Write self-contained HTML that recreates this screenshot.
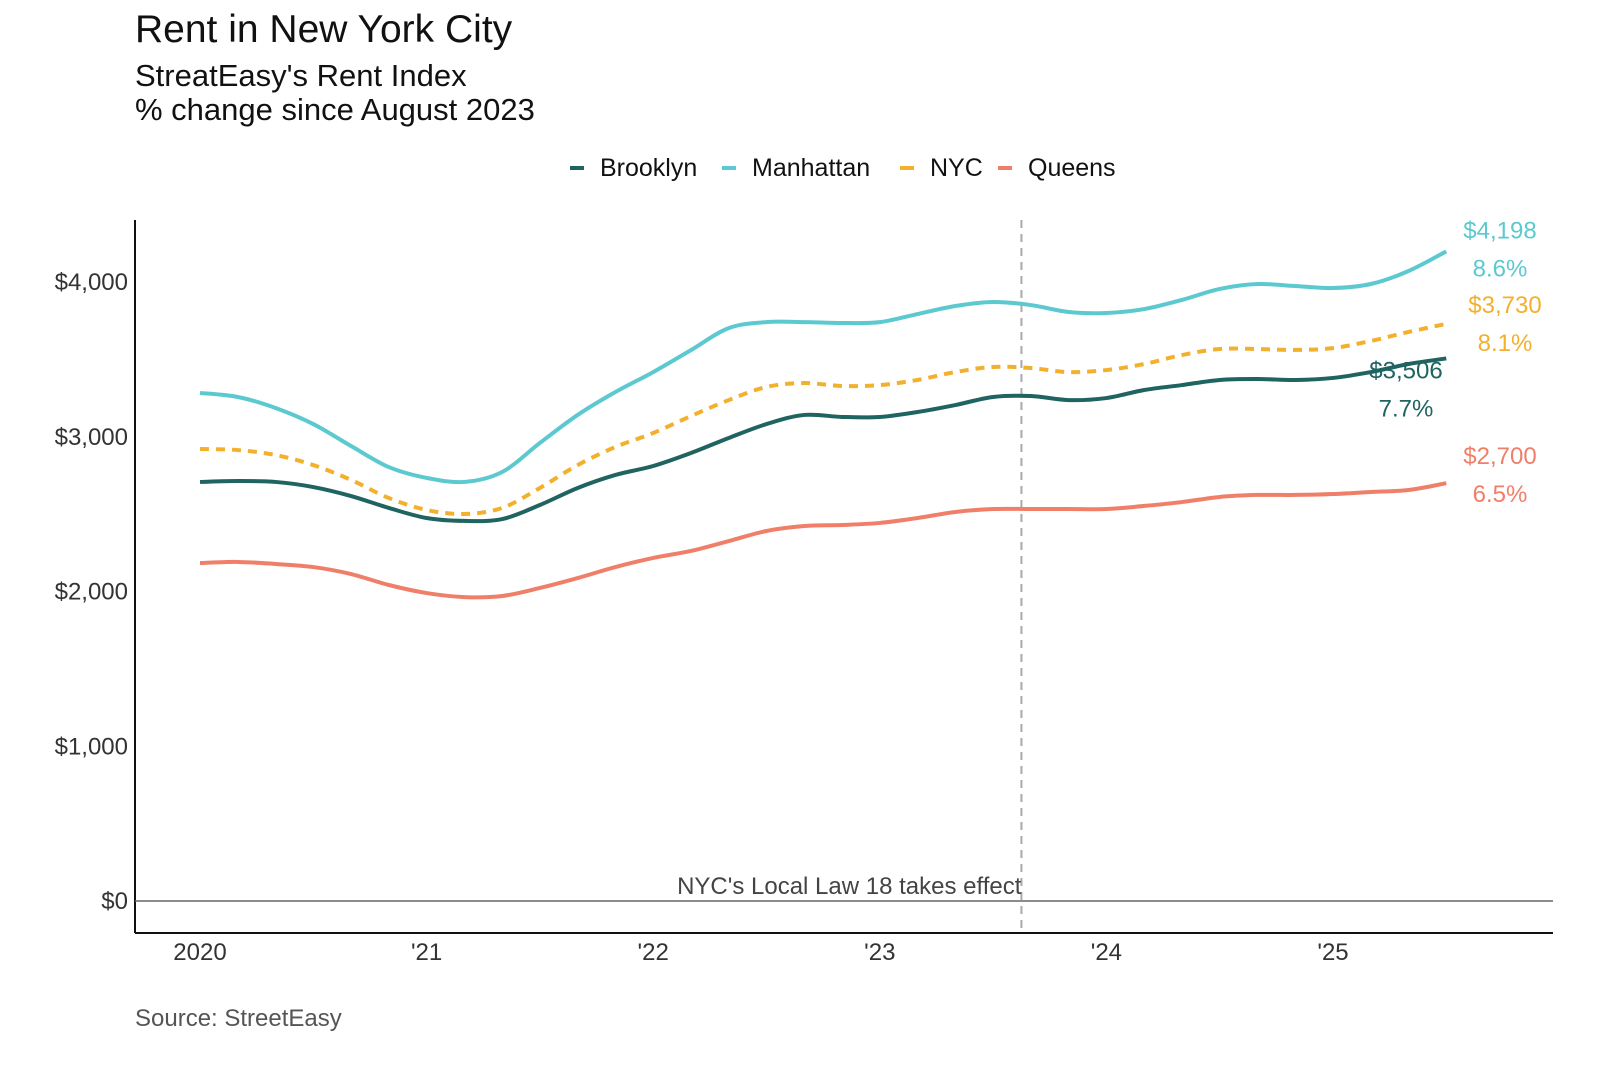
<!DOCTYPE html>
<html><head><meta charset="utf-8"><style>
body{margin:0;background:#fff;font-family:"Liberation Sans",sans-serif;}
svg text{font-family:"Liberation Sans",sans-serif;}
</style></head><body>
<svg id="chart" width="1600" height="1066" viewBox="0 0 1600 1066">
<text x="135" y="42" font-size="39" fill="#111">Rent in New York City</text>
<text x="135" y="86" font-size="31" fill="#111">StreatEasy's Rent Index</text>
<text x="135" y="120" font-size="31" fill="#111">% change since August 2023</text>
<g id="legend"></g>
<g id="grid"></g>
<g id="lines"></g>
<g id="labels"></g>
<text x="135" y="1026" font-size="24" fill="#555">Source: StreetEasy</text>
</svg>
<script>
const months=[0,2,4,6,8,10,12,14,16,18,20,22,24,26,28,30,32,34,36,38,40,42,44,46,48,50,52,54,56,58,60,62,64,66];
const manhattan=[3283,3257,3186,3082,2940,2804,2734,2708,2772,2960,3141,3289,3418,3560,3702,3741,3741,3735,3741,3793,3845,3871,3851,3806,3800,3825,3884,3955,3987,3974,3961,3987,4071,4198];
const nyc=[2921,2914,2882,2817,2721,2604,2527,2501,2540,2669,2817,2934,3024,3134,3237,3322,3347,3328,3334,3367,3418,3451,3444,3418,3431,3470,3528,3567,3567,3561,3573,3619,3677,3730];
const brooklyn=[2708,2714,2708,2675,2617,2540,2475,2456,2468,2559,2669,2753,2811,2895,2992,3082,3141,3128,3128,3160,3205,3257,3263,3237,3250,3302,3334,3367,3373,3367,3380,3418,3470,3506];
const queens=[2184,2191,2178,2158,2113,2042,1990,1964,1971,2023,2087,2158,2217,2262,2326,2391,2423,2430,2443,2475,2514,2533,2533,2533,2533,2553,2578,2611,2624,2624,2630,2643,2656,2700];
const yTicks=[0,1000,2000,3000,4000];
const yTickLabels=["$0","$1,000","$2,000","$3,000","$4,000"];
const xTicks=[0,12,24,36,48,60];
const xTickLabels=["2020","'21","'22","'23","'24","'25"];
const lawMonth=43.5;
const pct=["8.6%","8.1%","7.7%","6.5%"];

const NS="http://www.w3.org/2000/svg";
const X=m=>200+m*226.6/12;
const Y=v=>901-v*0.15475;
function mk(tag,attrs,parent,text){const e=document.createElementNS(NS,tag);for(const k in attrs)e.setAttribute(k,attrs[k]);if(text!==undefined)e.textContent=text;parent.appendChild(e);return e;}
const grid=document.getElementById('grid'),lines=document.getElementById('lines'),labels=document.getElementById('labels'),legend=document.getElementById('legend');
let e=mk('line',{x1:135,y1:220,x2:135,y2:933,stroke:'#111','stroke-width':2},grid);

e=mk('line',{x1:135,y1:933,x2:1553,y2:933,stroke:'#111','stroke-width':2},grid);

e=mk('line',{x1:135,y1:Y(0),x2:1553,y2:Y(0),stroke:'#666','stroke-width':1.5},grid);

yTicks.forEach((v,i)=>{const t=mk('text',{x:128,y:Y(v)+8,'text-anchor':'end','font-size':24,fill:'#333'},grid,yTickLabels[i]);
});
xTicks.forEach((m,i)=>{const t=mk('text',{x:X(m),y:960,'text-anchor':'middle','font-size':24,fill:'#333'},grid,xTickLabels[i]);
});
e=mk('line',{x1:X(lawMonth),y1:220,x2:X(lawMonth),y2:933,stroke:'#aaa','stroke-width':2,'stroke-dasharray':'8,6'},grid);

e=mk('text',{x:X(lawMonth),y:894,'text-anchor':'end','font-size':24,fill:'#444'},grid,"NYC's Local Law 18 takes effect");


const series=[
 {name:'Brooklyn',data:brooklyn,color:'#1f6461',dash:null},
 {name:'Manhattan',data:manhattan,color:'#5bc9cf',dash:null},
 {name:'NYC',data:nyc,color:'#f3b02c',dash:'9,7'},
 {name:'Queens',data:queens,color:'#f07f6a',dash:null}];
series.forEach(s=>{
 const pts=months.map((m,i)=>[X(m),Y(s.data[i])]);
 let d='M'+pts[0][0]+','+pts[0][1];
 for(let i=0;i<pts.length-1;i++){const p0=pts[Math.max(0,i-1)],p1=pts[i],p2=pts[i+1],p3=pts[Math.min(pts.length-1,i+2)];
  d+=' C'+(p1[0]+(p2[0]-p0[0])/6)+','+(p1[1]+(p2[1]-p0[1])/6)+' '+(p2[0]-(p3[0]-p1[0])/6)+','+(p2[1]-(p3[1]-p1[1])/6)+' '+p2[0]+','+p2[1];}
 const p=mk('path',{d:d,fill:'none',stroke:s.color,'stroke-width':4,'stroke-linejoin':'round'},lines);
 if(s.dash)p.setAttribute('stroke-dasharray',s.dash);
 
 
});
const fmt=v=>'$'+v.toLocaleString('en-US');
const endCfg=[{s:1,x:1500,dy:-13,p:0},{s:2,x:1505,dy:-11,p:1},{s:0,x:1406,dy:20,p:2},{s:3,x:1500,dy:-19,p:3}];
endCfg.forEach(c=>{const s=series[c.s];const v=s.data[s.data.length-1];const y=Y(v)+c.dy;
 let t=mk('text',{x:c.x,y:y,'text-anchor':'middle','font-size':24,fill:s.color},labels,fmt(v));
 
 t=mk('text',{x:c.x,y:y+38,'text-anchor':'middle','font-size':24,fill:s.color},labels,pct[c.p]);
 
});
const lx=[570,722,900,998];
series.forEach((s,i)=>{
 const g=mk('g',{},legend);
 
 
 mk('line',{x1:lx[i],y1:168,x2:lx[i]+14,y2:168,stroke:s.color,'stroke-width':4},g);
 mk('text',{x:lx[i]+30,y:176,'font-size':25,fill:'#111'},g,s.name);
});
</script>
</body></html>
